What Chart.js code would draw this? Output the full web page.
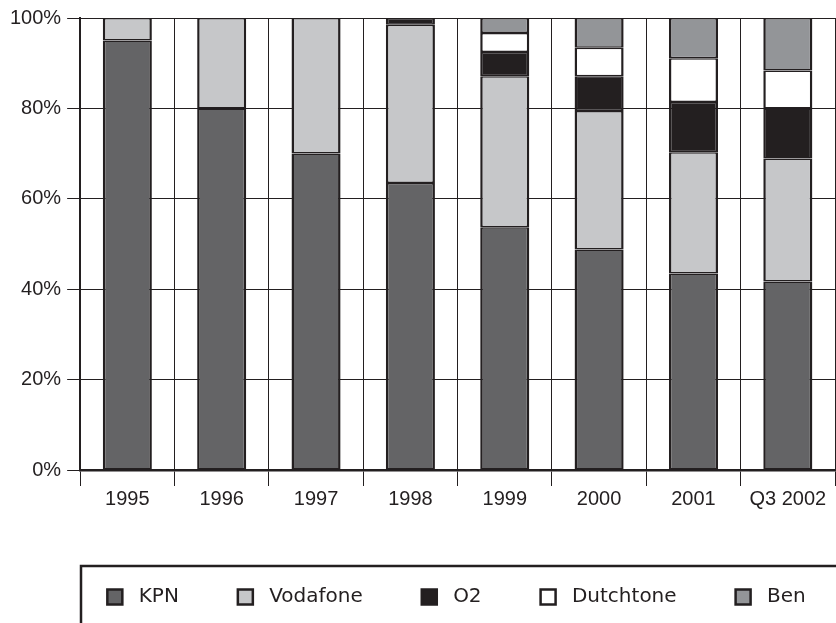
<!DOCTYPE html>
<html>
<head>
<meta charset="utf-8">
<script src="https://cdn.jsdelivr.net/npm/chart.js@4.4.1/dist/chart.umd.min.js"></script>
<style>
  body { margin: 0; background: #fff; }
</style>
</head>
<body>
<canvas id="chart" width="836" height="623"></canvas>
<script>
// market shares, percent (null = operator not present yet)
var years = ['1995', '1996', '1997', '1998', '1999', '2000', '2001', 'Q3 2002'];
var kpn = [95, 80, 70, 63.5, 53.7, 48.8, 43.5, 41.7];
var vodafone = [5, 20, 30, 35, 33.4, 30.6, 26.8, 27.2];
var o2 = [null, null, null, 1.5, 5.4, 7.7, 11.1, 11.1];
var dutchtone = [null, null, null, null, 4.2, 6.3, 9.7, 8.4];
var ben = [null, null, null, null, 3.3, 6.6, 8.9, 11.6];
var yTicks = [0, 20, 40, 60, 80, 100];

var ink = '#231f20';

function series(label, data, fill) {
  return {
    label: label,
    data: data,
    backgroundColor: fill,
    borderColor: ink,
    borderWidth: { top: 1.5, bottom: 1.5, left: 2.5, right: 2.5 },
    borderSkipped: false,
    barPercentage: 0.52,
    categoryPercentage: 1
  };
}

// box drawn round the legend, legend row moved to sit centred in it
var legendFrame = {
  id: 'legendFrame',
  afterLayout: function(chart) {
    chart.legend.left += 37;
    chart.legend.right += 37;
  },
  afterDraw: function(chart) {
    var ctx = chart.ctx;
    ctx.save();
    ctx.strokeStyle = ink;
    ctx.lineWidth = 2.5;
    ctx.strokeRect(81, 566, 770, 100);
    ctx.restore();
  }
};

new Chart(document.getElementById('chart'), {
  type: 'bar',
  data: {
    labels: years,
    datasets: [
      series('KPN', kpn, '#646466'),
      series('Vodafone', vodafone, '#c6c7c9'),
      series('O2', o2, ink),
      series('Dutchtone', dutchtone, '#ffffff'),
      series('Ben', ben, '#939598')
    ]
  },
  options: {
    responsive: false,
    animation: false,
    layout: { padding: { left: 4, right: 1, top: 12, bottom: 6 } },
    plugins: {
      tooltip: { enabled: false },
      legend: {
        position: 'bottom',
        labels: {
          font: { family: 'DejaVu Sans', size: 20 },
          color: ink,
          boxWidth: 15,
          boxHeight: 15,
          padding: 59,
          generateLabels: function(chart) {
            var items = Chart.defaults.plugins.legend.labels.generateLabels(chart);
            items.forEach(function(it) {
              it.text = ' ' + it.text;
              it.lineWidth = 2.5;
            });
            return items;
          }
        }
      }
    },
    scales: {
      x: {
        stacked: true,
        offset: true,
        grid: { offset: true, color: ink, lineWidth: 1, tickLength: 16 },
        border: { color: ink, width: 2.5 },
        ticks: {
          color: ink,
          padding: 1,
          font: { family: 'Liberation Sans, Arial', size: 20 }
        },
        afterFit: function(s) { s.height = 58; }
      },
      y: {
        stacked: true,
        min: 0,
        max: 100,
        afterBuildTicks: function(s) { s.ticks = yTicks.map(function(v) { return { value: v }; }); },
        grid: { color: ink, lineWidth: 1, tickLength: 13 },
        border: { color: ink, width: 2 },
        ticks: {
          color: ink,
          padding: 6,
          font: { family: 'Liberation Sans, Arial', size: 20 },
          callback: function(v) { return v + '%'; }
        }
      }
    }
  },
  plugins: [legendFrame]
});
</script>
</body>
</html>
